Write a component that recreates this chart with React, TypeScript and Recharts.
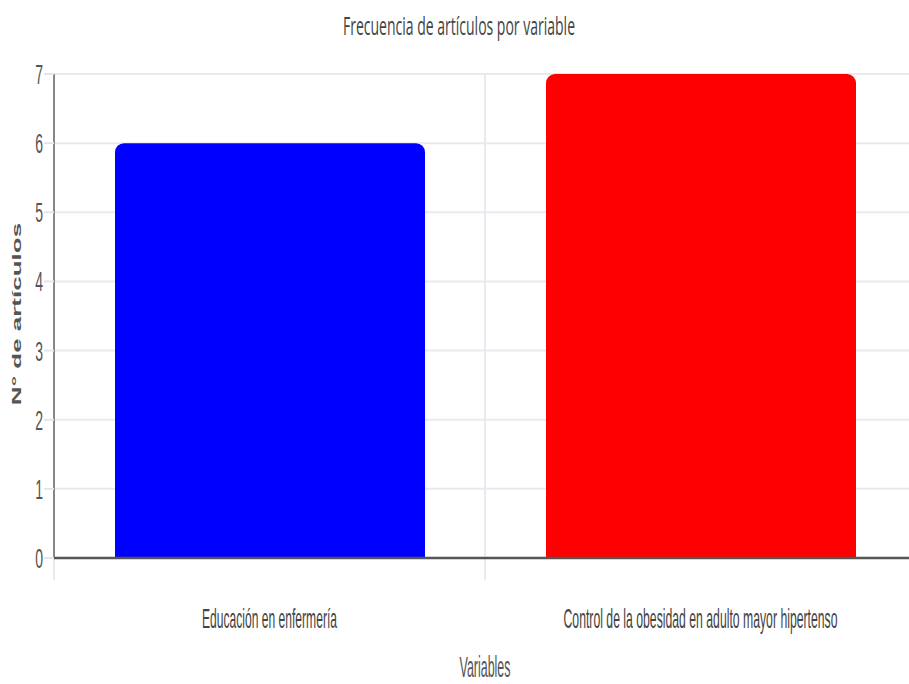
import { BarChart, Bar, Cell, XAxis, YAxis, CartesianGrid, Label } from 'recharts'

// datos del gráfico
const categories = ['Educación en enfermería', 'Control de la obesidad en adulto mayor hipertenso']
const articleCounts = [6, 7]
const barColors = ['#0000ff', '#ff0000']
const yTicks = [0, 1, 2, 3, 4, 5, 6, 7]

const chartData = categories.map((name, i) => ({ name, value: articleCounts[i] }))

const FONT = "'Liberation Sans', Arial, sans-serif"
// ancho de cada etiqueta (la imagen original está comprimida en horizontal)
const tickWidths = [135, 274]

const XTick = ({ x, y, payload, index }: any) => (
  <text
    x={x}
    y={y + 62}
    textAnchor="middle"
    fontSize={28}
    fontFamily={FONT}
    fill="#444"
    textLength={tickWidths[index]}
    lengthAdjust="spacingAndGlyphs"
  >
    {payload.value}
  </text>
)

const YTick = ({ x, y, payload }: any) => (
  <text
    transform={`translate(${x + 1},${y + 10}) scale(0.5,1)`}
    textAnchor="end"
    fontSize={28}
    fontFamily={FONT}
    fill="#555"
  >
    {payload.value}
  </text>
)

const YLabel = ({ viewBox }: any) => (
  <text
    transform={`translate(16,${viewBox.y + viewBox.height / 2 - 2}) scale(0.5,1) rotate(-90)`}
    textAnchor="middle"
    dominantBaseline="central"
    fontSize={26}
    fontWeight="bold"
    fontFamily={FONT}
    fill="#555"
  >
    N° de artículos
  </text>
)

const XLabel = ({ viewBox }: any) => (
  <text
    x={viewBox.x + viewBox.width / 2}
    y={viewBox.y + 119}
    textAnchor="middle"
    fontSize={29}
    fontFamily={FONT}
    fill="#555"
    textLength={51}
    lengthAdjust="spacingAndGlyphs"
  >
    Variables
  </text>
)

// líneas verticales en los bordes de cada categoría
const bandEdges = ({ offset }: any) => [offset.left, offset.left + offset.width / 2]

export default function App() {
  return (
    <div style={{ position: 'absolute', left: 0, top: 0, width: 909, height: 684, overflow: 'hidden', background: '#fff' }}>
      <svg width={909} height={60} style={{ position: 'absolute', left: 0, top: 0 }}>
        <text
          x={459}
          y={35}
          textAnchor="middle"
          fontSize={25}
          fontFamily="'Open Sans', sans-serif"
          fill="#444"
          textLength={232}
          lengthAdjust="spacingAndGlyphs"
        >
          Frecuencia de artículos por variable
        </text>
      </svg>
      <BarChart
        width={916}
        height={684}
        data={chartData}
        margin={{ top: 74, right: 0, left: 0, bottom: 0 }}
      >
        <CartesianGrid
          stroke="#e9e9ef"
          strokeWidth={2}
          y={74}
          height={506}
          verticalCoordinatesGenerator={bandEdges}
        />
        <XAxis
          dataKey="name"
          height={126}
          tick={<XTick />}
          tickLine={false}
          interval={0}
          axisLine={{ stroke: '#555', strokeWidth: 2.5 }}
        >
          <Label content={<XLabel />} />
        </XAxis>
        <YAxis
          width={54}
          domain={[0, 7]}
          ticks={yTicks}
          tick={<YTick />}
          tickSize={10}
          tickLine={{ stroke: '#e4e4ea', strokeWidth: 2 }}
          axisLine={{ stroke: '#666', strokeWidth: 1.5 }}
        >
          <Label content={<YLabel />} />
        </YAxis>
        <Bar dataKey="value" barSize={310} radius={[9, 9, 0, 0]} isAnimationActive={false}>
          {chartData.map((d, i) => (
            <Cell key={d.name} fill={barColors[i]} />
          ))}
        </Bar>
      </BarChart>
    </div>
  )
}
